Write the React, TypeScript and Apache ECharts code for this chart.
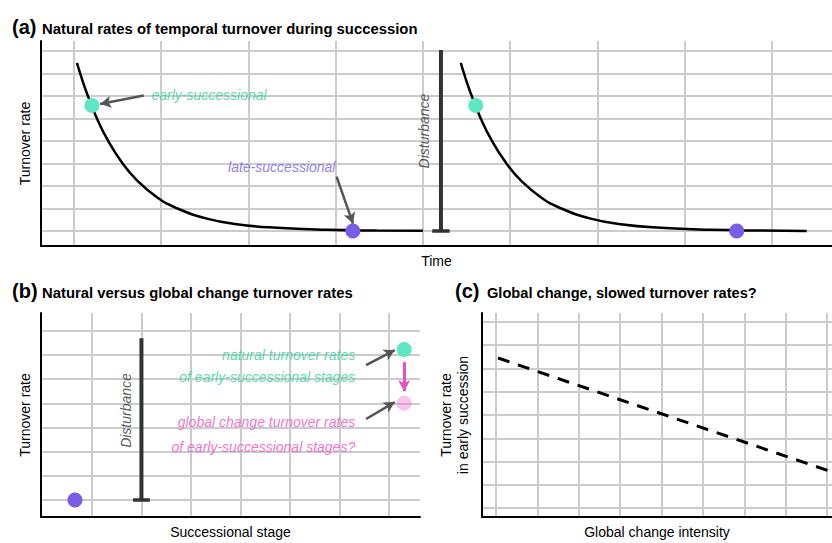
import React, { useEffect, useRef } from "react";
import * as echarts from "echarts";

// ---------- data ----------
const aXRange = [0.622, 9.688];
const aYRange = [-0.667, 8.444];
const bXRange = [-0.03, 7.63];
const bYRange = [-0.7, 7.73];
const cXRange = [0.662, 9.116];
const cYRange = [-0.387, 8.387];

const aXBreaks = [1, 2, 3, 4, 5, 6, 7, 8, 9];
const aYBreaks = [0, 1, 2, 3, 4, 5, 6, 7, 8];
const bXBreaks = [1, 2, 3, 4, 5, 6, 7];
const bYBreaks = [0, 1, 2, 3, 4, 5, 6, 7];
const cXBreaks = [1, 2, 3, 4, 5, 6, 7, 8, 9];
const cYBreaks = [0, 1, 2, 3, 4, 5, 6, 7, 8];

// panel (a): turnover rate through time, before and after disturbance
const aCurve1: number[][] = [
  [1.034, 7.47], [1.091, 6.76], [1.149, 6.11], [1.206, 5.56], [1.263, 5.0],
  [1.378, 4.1], [1.55, 3.04], [1.722, 2.25], [1.951, 1.5], [2.18, 1.01],
  [2.524, 0.55], [2.868, 0.3], [3.326, 0.14], [3.899, 0.05], [4.472, 0.02], [4.999, 0.01],
];
const aCurve2: number[][] = [
  [5.433, 7.47], [5.49, 6.76], [5.548, 6.11], [5.605, 5.56], [5.662, 5.0],
  [5.777, 4.1], [5.949, 3.04], [6.121, 2.25], [6.35, 1.5], [6.579, 1.01],
  [6.923, 0.55], [7.267, 0.3], [7.725, 0.14], [8.298, 0.05], [8.871, 0.02], [9.398, 0.005],
];
const aEarly: number[][] = [[1.206, 5.58], [5.605, 5.58]];
const aLate: number[][] = [[4.196, 0], [8.596, 0]];
const aDisturbanceX = 5.206;
const aDisturbanceTop = 8.04;

// panel (b)
const bLate: number[][] = [[0.657, 0]];
const bNatural: number[][] = [[7.31, 6.22]];
const bGlobal: number[][] = [[7.31, 4.0]];
const bDisturbanceX = 2.0;
const bDisturbanceTop = 6.69;

// panel (c)
const cTrend: number[][] = [[1.05, 6.45], [9.116, 1.55]];

// titles
const titles = [
  { tag: "(a)", text: "Natural rates of temporal turnover during succession" },
  { tag: "(b)", text: "Natural versus global change turnover rates" },
  { tag: "(c)", text: "Global change, slowed turnover rates?" },
];

// ---------- styles ----------
const FONT = "'Liberation Sans', Arial, sans-serif";
const TEAL = "#5de8c3";
const TEAL_TEXT = "#30d09f";
const PURPLE = "#7b5ce8";
const PINK_TEXT = "#ec4fc8";
const MAGENTA = "#e64fc6";
const PINK_PT = "rgba(238,90,205,0.35)";
const DARK = "#333333";
const ARROW = "#555555";

function xAxis(gridIndex: number, range: number[], name: string, gap: number) {
  return {
    type: "value", gridIndex, min: range[0], max: range[1], name,
    nameLocation: "middle", nameGap: gap,
    nameTextStyle: { fontSize: 14, color: "#000", fontFamily: FONT },
    axisLine: { show: true, onZero: false, lineStyle: { color: "#000", width: 2 } },
    axisTick: { show: false }, axisLabel: { show: false }, splitLine: { show: false }, z: 5,
  };
}
function yAxis(gridIndex: number, range: number[], name: string, gap: number) {
  return {
    type: "value", gridIndex, min: range[0], max: range[1], name,
    nameLocation: "middle", nameGap: gap, nameRotate: 90,
    nameTextStyle: { fontSize: 14, color: "#000", fontFamily: FONT, lineHeight: 17 },
    axisLine: { show: true, onZero: false, lineStyle: { color: "#000", width: 2 } },
    axisTick: { show: false }, axisLabel: { show: false }, splitLine: { show: false }, z: 5,
  };
}
function gridSeries(idx: number, xs: number[], ys: number[]) {
  return {
    type: "line", xAxisIndex: idx, yAxisIndex: idx, data: [], silent: true, z: 1,
    markLine: {
      z: 1, silent: true, symbol: "none", label: { show: false }, emphasis: { disabled: true },
      lineStyle: { color: "#cccccc", width: 2, type: "solid" },
      data: [...xs.map((v) => ({ xAxis: v })), ...ys.map((v) => ({ yAxis: v }))],
    },
  };
}
function lineSeries(idx: number, data: number[][], color: string, width: number, extra: any = {}) {
  return {
    type: "line", xAxisIndex: idx, yAxisIndex: idx, data, showSymbol: false, silent: true,
    lineStyle: { color, width }, z: 3, ...extra,
  };
}
function pointSeries(idx: number, data: number[][], color: string) {
  return {
    type: "scatter", xAxisIndex: idx, yAxisIndex: idx, data, symbolSize: 15, silent: true,
    itemStyle: { color, opacity: 1 }, z: 6,
  };
}
function textSeries(idx: number, items: any[], arrows: any[]) {
  return {
    type: "scatter", xAxisIndex: idx, yAxisIndex: idx, symbolSize: 1, silent: true, z: 7,
    itemStyle: { color: "transparent" },
    label: {
      show: true, position: [0, 0], formatter: "{b}", fontSize: 14, fontStyle: "italic",
      fontFamily: FONT, verticalAlign: "middle",
    },
    data: items.map((it) => ({
      name: it.text, value: it.pos,
      label: { color: it.color, align: it.align, rotate: it.rotate || 0 },
    })),
    markLine: {
      z: 8, silent: true, symbol: ["none", "arrow"], symbolSize: [9, 11], label: { show: false },
      emphasis: { disabled: true },
      lineStyle: { color: ARROW, width: 2.5, type: "solid" },
      data: arrows.map((a) => [
        { coord: a.from, lineStyle: { curveness: a.curve, color: a.color || ARROW, width: a.width || 2.5 } },
        { coord: a.to },
      ]),
    },
  };
}

function measure(text: string, font: string): number {
  const ctx = document.createElement("canvas").getContext("2d");
  if (!ctx) return 0;
  ctx.font = font;
  return ctx.measureText(text).width;
}

export default function App() {
  const ref = useRef<HTMLDivElement>(null);
  useEffect(() => {
    if (!ref.current) return;
    const chart = echarts.init(ref.current, undefined, { renderer: "svg" });

    // title layout: tag position, text start, text end, baseline
    const titleLayout = [
      { tagX: 12, textX: 42, textEnd: 418, base: 34 },
      { tagX: 12, textX: 42, textEnd: 353, base: 297.5 },
      { tagX: 455, textX: 487, textEnd: 757, base: 297.5 },
    ];
    const TS = 15.5;
    const TAGS = 20;
    const titleFont = `bold ${TS}px 'Liberation Sans', Arial, sans-serif`;
    const graphics: any[] = [];
    titles.forEach((t, i) => {
      const L = titleLayout[i];
      const w = measure(t.text, titleFont) || 1;
      const sx = (L.textEnd - L.textX) / w;
      graphics.push({
        type: "text", x: L.tagX, y: L.base - 0.33 * TAGS, silent: true,
        style: { text: t.tag, fontSize: TAGS, fontWeight: "bold", fontFamily: FONT, fill: "#000", align: "left", verticalAlign: "middle" },
      });
      graphics.push({
        type: "text", x: L.textX, y: L.base - 0.35 * TS, scaleX: sx, silent: true,
        style: { text: t.text, fontSize: TS, fontWeight: "bold", fontFamily: FONT, fill: "#000", align: "left", verticalAlign: "middle" },
      });
    });

    chart.setOption({
      animation: false,
      graphic: graphics,
      grid: [
        { left: 41, right: 0, top: 41, bottom: 297, outerBoundsMode: "none" },
        { left: 41, right: 412, top: 313, bottom: 26, outerBoundsMode: "none" },
        { left: 482, right: 0, top: 313, bottom: 26, outerBoundsMode: "none" },
      ],
      xAxis: [
        xAxis(0, aXRange, "Time", 8),
        xAxis(1, bXRange, "Successional stage", 8),
        xAxis(2, cXRange, "Global change intensity", 8),
      ],
      yAxis: [
        yAxis(0, aYRange, "Turnover rate", 8),
        yAxis(1, bYRange, "Turnover rate", 8),
        yAxis(2, cYRange, "Turnover rate\nin early succession", 11),
      ],
      series: [
        // panel a
        gridSeries(0, aXBreaks, aYBreaks),
        lineSeries(0, aCurve1, "#000", 2.5, { smooth: true }),
        lineSeries(0, aCurve2, "#000", 2.5, { smooth: true }),
        lineSeries(0, [[aDisturbanceX, 0], [aDisturbanceX, aDisturbanceTop]], DARK, 4, { z: 4 }),
        lineSeries(0, [[aDisturbanceX - 0.1, 0], [aDisturbanceX + 0.1, 0]], DARK, 3.5, { z: 4 }),
        pointSeries(0, aEarly, TEAL),
        pointSeries(0, aLate, PURPLE),
        textSeries(0, [
          { text: "early-successional", pos: [1.894, 6.04], color: TEAL_TEXT, align: "left" },
          { text: "late-successional", pos: [4.003, 2.84], color: PURPLE, align: "right" },
          { text: "Disturbance", pos: [5.023, 4.42], color: DARK, align: "center", rotate: 90 },
        ], [
          { from: [1.8, 6.02], to: [1.3, 5.64], curve: 0.2 },
          { from: [4.01, 2.42], to: [4.198, 0.33], curve: 0.3 },
        ]),
        // panel b
        gridSeries(1, bXBreaks, bYBreaks),
        lineSeries(1, [[bDisturbanceX, 0], [bDisturbanceX, bDisturbanceTop]], DARK, 4, { z: 4 }),
        lineSeries(1, [[bDisturbanceX - 0.17, 0], [bDisturbanceX + 0.17, 0]], DARK, 3.5, { z: 4 }),
        pointSeries(1, bLate, PURPLE),
        pointSeries(1, bNatural, TEAL),
        pointSeries(1, bGlobal, PINK_PT),
        textSeries(1, [
          { text: "natural turnover rates", pos: [6.33, 5.99], color: TEAL_TEXT, align: "right" },
          { text: "of early-successional stages", pos: [6.33, 5.08], color: TEAL_TEXT, align: "right" },
          { text: "global change turnover rates", pos: [6.33, 3.22], color: PINK_TEXT, align: "right" },
          { text: "of early-successional stages?", pos: [6.33, 2.19], color: PINK_TEXT, align: "right" },
          { text: "Disturbance", pos: [1.707, 3.68], color: DARK, align: "center", rotate: 90 },
        ], [
          { from: [6.54, 5.58], to: [7.12, 6.2], curve: 0.25 },
          { from: [6.54, 3.35], to: [7.12, 4.05], curve: 0.25 },
          { from: [7.31, 5.7], to: [7.31, 4.5], curve: 0, color: MAGENTA, width: 3 },
        ]),
        // panel c
        gridSeries(2, cXBreaks, cYBreaks),
        lineSeries(2, cTrend, "#000", 3, { lineStyle: { color: "#000", width: 3, type: [12, 9] } }),
      ],
    });
    return () => chart.dispose();
  }, []);
  return <div ref={ref} style={{ position: "absolute", left: 0, top: 0, width: 832, height: 543 }} />;
}
